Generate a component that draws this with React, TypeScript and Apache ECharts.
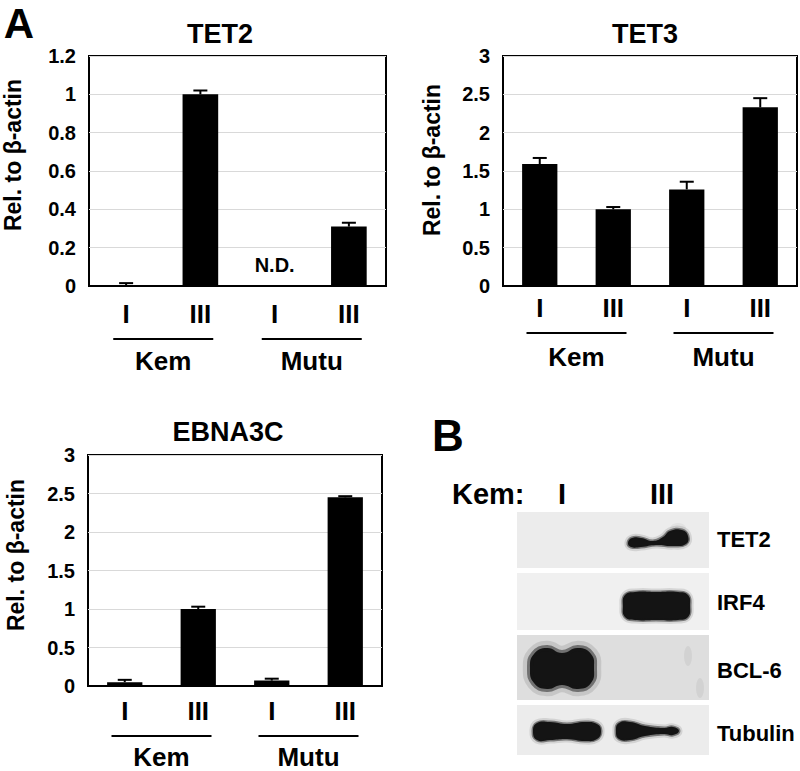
import React, { useEffect, useRef } from 'react';
import * as echarts from 'echarts';

// ---------- data ----------
const lanes = ['I', 'III', 'I', 'III'];
const groups = ['Kem', 'Mutu'];
const yAxisName = 'Rel. to β-actin';

const tet2Values = [0.005, 1.0, 0, 0.31];
const tet2Errors = [0.01, 0.02, 0, 0.02];
const tet2Notes = ['', '', 'N.D.', ''];
const tet2Range = [0, 1.2, 0.2];

const tet3Values = [1.59, 1.0, 1.26, 2.33];
const tet3Errors = [0.08, 0.03, 0.1, 0.12];
const tet3Notes = ['', '', '', ''];
const tet3Range = [0, 3, 0.5];

const ebnaValues = [0.05, 1.0, 0.07, 2.45];
const ebnaErrors = [0.03, 0.03, 0.025, 0.015];
const ebnaNotes = ['', '', '', ''];
const ebnaRange = [0, 3, 0.5];

const chartTitles = ['TET2', 'TET3', 'EBNA3C'];

const blotLaneLabel = 'Kem:';
const blotLanes = ['I', 'III'];
const blotProteins = ['TET2', 'IRF4', 'BCL-6', 'Tubulin'];

// ---------- layout ----------
const FONT = '"Liberation Sans", Arial, Helvetica, sans-serif';
const layouts = [
  { left: 89, top: 56, width: 297, height: 230, titleX: 220, titleY: 34, nameX: 13, nameY: 155, laneMargin: 15, groupMargin: 62, lineY: 339 },
  { left: 503, top: 56, width: 294, height: 230, titleX: 645, titleY: 34, nameX: 432, nameY: 160, laneMargin: 9, groupMargin: 58, lineY: 333 },
  { left: 88, top: 455, width: 294, height: 231, titleX: 228, titleY: 432, nameX: 16, nameY: 555, laneMargin: 12, groupMargin: 58, lineY: 736 },
];

const chartData = [
  { values: tet2Values, errors: tet2Errors, notes: tet2Notes, range: tet2Range },
  { values: tet3Values, errors: tet3Errors, notes: tet3Notes, range: tet3Range },
  { values: ebnaValues, errors: ebnaErrors, notes: ebnaNotes, range: ebnaRange },
];

const boldText = (size: number) => ({ fontSize: size, fontWeight: 'bold' as const, color: '#000', fontFamily: FONT });

function textEl(text: string, x: number, y: number, size: number, align = 'center', rotation = 0) {
  return {
    type: 'text',
    x,
    y,
    rotation,
    silent: true,
    style: {
      text,
      fill: '#000',
      font: `bold ${size}px ${FONT}`,
      align,
      verticalAlign: 'middle',
    },
  };
}

function blob(points: number[][], soft = 4, alpha = 0.3) {
  return [
    { type: 'polygon', silent: true, shape: { points, smooth: 0.5 }, style: { fill: `rgba(0,0,0,${alpha * 0.35})`, stroke: `rgba(0,0,0,${alpha * 0.35})`, lineWidth: soft * 2.4 } },
    { type: 'polygon', silent: true, shape: { points, smooth: 0.5 }, style: { fill: '#141414', stroke: `rgba(20,20,20,${alpha * 1.6})`, lineWidth: soft } },
  ];
}

function blotGraphics() {
  const els: any[] = [];
  // lane header
  els.push(textEl(blotLaneLabel, 452, 494, 29, 'left'));
  els.push(textEl(blotLanes[0], 562, 494, 29));
  els.push(textEl(blotLanes[1], 662, 494, 29));
  // panels
  const panels = [
    { y: 512, h: 56, fill: '#ececec', labelY: 539 },
    { y: 573, h: 57, fill: '#f0f0f0', labelY: 602 },
    { y: 635, h: 65, fill: '#dedede', labelY: 670 },
    { y: 705, h: 50, fill: '#ececec', labelY: 733 },
  ];
  panels.forEach((p, i) => {
    els.push({ type: 'rect', silent: true, shape: { x: 517, y: p.y, width: 192, height: p.h }, style: { fill: p.fill } });
    els.push(textEl(blotProteins[i], 717, p.labelY, 22, 'left'));
  });
  // faint smudges
  els.push({ type: 'ellipse', silent: true, shape: { cx: 678, cy: 528, rx: 8, ry: 5 }, style: { fill: 'rgba(0,0,0,0.04)' } });
  els.push({ type: 'ellipse', silent: true, shape: { cx: 688, cy: 656, rx: 4, ry: 10 }, style: { fill: 'rgba(0,0,0,0.05)' } });
  els.push({ type: 'ellipse', silent: true, shape: { cx: 700, cy: 688, rx: 4, ry: 10 }, style: { fill: 'rgba(0,0,0,0.05)' } });
  // TET2 band (lane III)
  els.push(...blob([[628, 543], [632, 538], [641, 538], [653, 541], [663, 537], [670, 531], [682, 530], [688, 536], [686, 544], [673, 546], [656, 545], [641, 547], [631, 547]], 3));
  // IRF4 band (lane III)
  els.push(...blob([[623, 606], [625, 595], [635, 592], [656, 592], [678, 592], [688, 595], [690, 606], [688, 617], [678, 620], [656, 620], [635, 620], [625, 617]], 3));
  // BCL-6 band (lane I)
  els.push(...blob([[530, 668], [534, 654], [547, 648], [562, 653], [578, 648], [591, 654], [594, 668], [591, 683], [578, 689], [562, 685], [547, 689], [534, 683]], 6));
  // Tubulin bands
  els.push(...blob([[533, 731], [537, 723], [550, 722], [567, 724], [585, 722], [597, 724], [601, 731], [597, 739], [585, 741], [567, 739], [550, 740], [537, 740]], 3));
  els.push(...blob([[616, 731], [619, 723], [630, 722], [645, 726], [664, 728], [673, 727], [679, 731], [673, 735], [664, 734], [645, 736], [630, 740], [619, 739]], 3));
  return els;
}

export default function App() {
  const ref = useRef<HTMLDivElement>(null);

  useEffect(() => {
    if (!ref.current) return;
    const chart = echarts.init(ref.current, undefined, { renderer: 'svg' });

    const grid: any[] = [];
    const xAxis: any[] = [];
    const yAxis: any[] = [];
    const series: any[] = [];

    chartData.forEach((d, i) => {
      const L = layouts[i];
      grid.push({ left: L.left, top: L.top, width: L.width, height: L.height, show: true, borderColor: '#000', borderWidth: 2, containLabel: false });
      xAxis.push({
        gridIndex: i,
        type: 'category',
        data: lanes,
        position: 'bottom',
        axisLine: { show: true, lineStyle: { color: '#000', width: 2 } },
        axisTick: { show: false },
        axisLabel: { ...boldText(26), margin: L.laneMargin },
        splitLine: { show: false },
      });
      xAxis.push({
        gridIndex: i,
        type: 'category',
        data: groups,
        position: 'bottom',
        axisLine: { show: false },
        axisTick: { show: false },
        axisLabel: { ...boldText(26), margin: L.groupMargin },
        splitLine: { show: false },
      });
      yAxis.push({
        gridIndex: i,
        type: 'value',
        min: d.range[0],
        max: d.range[1],
        interval: d.range[2],
        axisLine: { show: false },
        axisTick: { show: false },
        axisLabel: { ...boldText(20), margin: 13 },
        splitLine: { show: true, lineStyle: { color: '#d9d9d9', width: 1 } },
      });
      series.push({
        type: 'bar',
        xAxisIndex: 2 * i,
        yAxisIndex: i,
        barWidth: '48%',
        itemStyle: { color: '#000' },
        z: 2,
        data: d.values.map((v, j) =>
          d.notes[j]
            ? { value: v, label: { show: true, position: 'top', distance: 11, formatter: d.notes[j], ...boldText(20) } }
            : v
        ),
      });
      series.push({
        type: 'custom',
        xAxisIndex: 2 * i,
        yAxisIndex: i,
        z: 3,
        encode: { x: 0, y: 1 },
        data: d.values.map((v, j) => [j, v, d.errors[j]]),
        renderItem: (params: any, api: any) => {
          const err = api.value(2);
          if (!err) return null;
          const base = api.coord([api.value(0), api.value(1)]);
          const top = api.coord([api.value(0), api.value(1) + err]);
          return {
            type: 'group',
            children: [
              { type: 'line', shape: { x1: base[0], y1: base[1], x2: base[0], y2: top[1] }, style: { stroke: '#000', lineWidth: 2 } },
              { type: 'line', shape: { x1: base[0] - 7, y1: top[1], x2: base[0] + 7, y2: top[1] }, style: { stroke: '#000', lineWidth: 2 } },
            ],
          };
        },
      });
    });

    chart.setOption({
      animation: false,
      backgroundColor: '#fff',
      grid,
      xAxis,
      yAxis,
      series,
    });

    const graphics: any[] = [];
    // panel letters
    graphics.push(textEl('A', 19, 23, 42));
    graphics.push(textEl('B', 448, 435, 44));
    layouts.forEach((L, i) => {
      graphics.push(textEl(chartTitles[i], L.titleX, L.titleY, 27));
      graphics.push(textEl(yAxisName, L.nameX, L.nameY, 23, 'center', Math.PI / 2));
      groups.forEach((g) => {
        const cx = chart.convertToPixel({ xAxisIndex: 2 * i + 1 } as any, g) as unknown as number;
        graphics.push({
          type: 'line',
          silent: true,
          shape: { x1: cx - 50, y1: L.lineY, x2: cx + 50, y2: L.lineY },
          style: { stroke: '#000', lineWidth: 2 },
        });
      });
    });
    graphics.push(...blotGraphics());

    chart.setOption({ graphic: graphics });

    return () => chart.dispose();
  }, []);

  return <div ref={ref} style={{ position: 'absolute', left: 0, top: 0, width: 800, height: 771 }} />;
}
